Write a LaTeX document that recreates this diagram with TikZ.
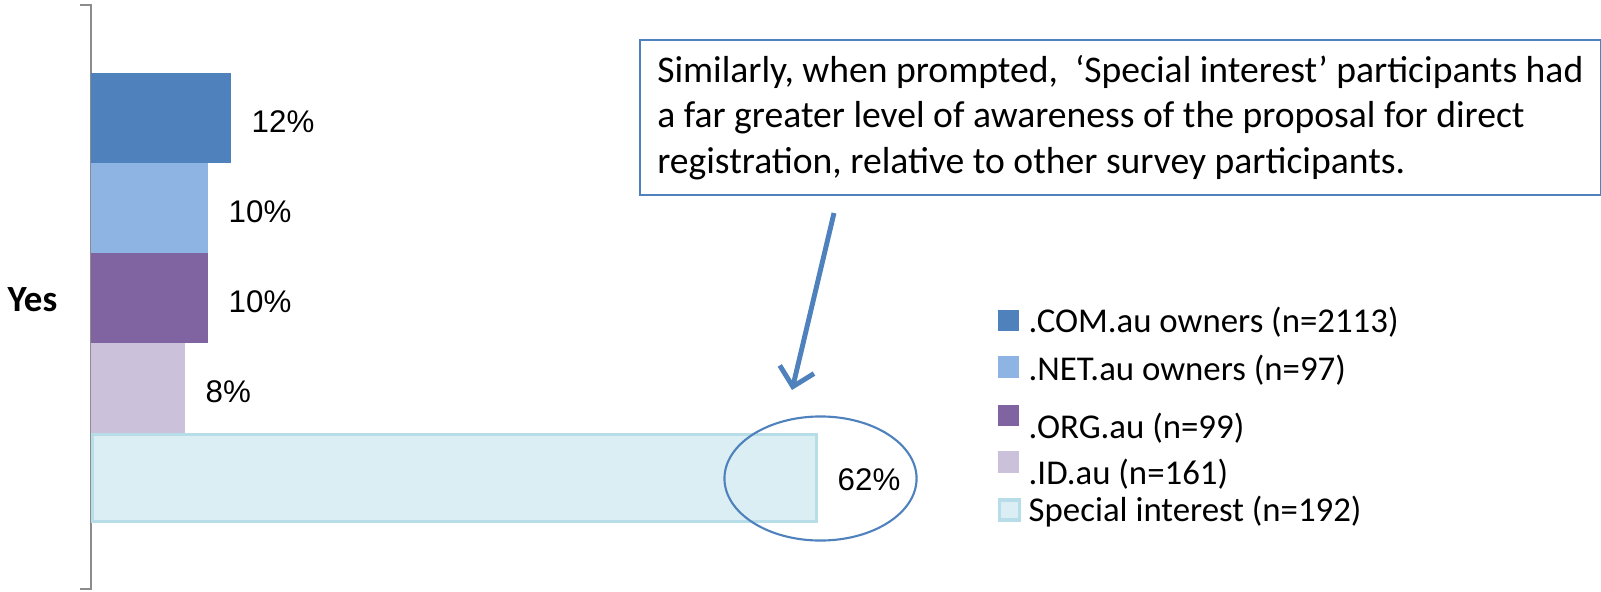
\documentclass[tikz,border=0pt]{standalone}
\usepackage{fontspec}
\setmainfont{Carlito}
\newfontfamily\pctfont{Liberation Sans}
\usetikzlibrary{arrows.meta,shapes.geometric}
\definecolor{comblue}{HTML}{4F81BD}
\definecolor{netblue}{HTML}{8EB4E3}
\definecolor{orgpurple}{HTML}{8064A2}
\definecolor{idlilac}{HTML}{CCC1DA}
\definecolor{specfill}{HTML}{DAEEF3}
\definecolor{specline}{HTML}{B7DDE8}
\definecolor{axisgray}{HTML}{8C8C8C}
\begin{document}
\begin{tikzpicture}[x=0.01cm,y=-0.01cm,>=Stealth,
  txt/.style={font=\fontsize{9.9}{12}\selectfont,inner sep=0pt},
  pct/.style={font=\pctfont\fontsize{8.9}{10}\selectfont,anchor=west,inner sep=0pt},
  key/.style={minimum size=0.215cm,inner sep=0pt,anchor=west}]
 \useasboundingbox (0,0) rectangle (1601,591);
 % axis and category
 \draw[axisgray,line width=0.6pt] (80,5) -- (91,5) -- (91,589) -- (80,589);
 \node[txt,font=\fontsize{10.5}{12}\selectfont\bfseries] (yes) at (32.5,300) {Yes};
 % bars
 \foreach \t/\r/\c/\p/\n in {73/231/comblue/12/pcom,163/208/netblue/10/pnet,253/208/orgpurple/10/porg,343/185/idlilac/8/pid}{
   \fill[\c] (91,\t) rectangle (\r,\t+90);
   \node[pct] (\n) at (\r+20,\t+49) {\p\%};
 }
 \filldraw[fill=specfill,draw=specline,line width=0.9pt] (92.5,434.5) rectangle (816.5,521.5);
 \node[pct] (pspec) at (837,480) {62\%};
 \node[ellipse,draw=comblue,line width=0.6pt,minimum width=1.92cm,minimum height=1.24cm] (ring) at (820.5,478.5) {};
 % callout
 \node[draw=comblue,line width=0.6pt,anchor=north west,inner sep=0pt,align=left,
   font=\fontsize{10.7}{12.9}\selectfont,minimum width=9.6cm,minimum height=1.55cm] (note) at (639,39)
   {Similarly, when prompted,~ ‘Special interest’ participants had\\a far greater level of awareness of the proposal for direct\\registration, relative to other survey participants.};
 \coordinate (tail) at (834,213);
 \coordinate (tip) at (792,390);
 \draw[comblue,line width=1.4pt,-{Straight Barb[length=5pt,width=10pt]}] (tail) -- (tip);
 % legend
 \node[key,fill=comblue] (kcom) at (997,320.5) {};
 \node[key,fill=netblue] (knet) at (997,367) {};
 \node[key,fill=orgpurple] (korg) at (997,415.5) {};
 \node[key,fill=idlilac] (kid) at (997,462) {};
 \node[key,fill=specfill,draw=specline,line width=0.9pt,minimum size=0.2cm] (kspec) at (998,510) {};
 \node[txt,anchor=base west] (lcom) at (1028,332.7) {.COM.au owners (n=2113)};
 \node[txt,anchor=base west] (lnet) at (1028,380) {.NET.au owners (n=97)};
 \node[txt,anchor=base west] (lorg) at (1028,438) {.ORG.au (n=99)};
 \node[txt,anchor=base west] (lid) at (1028,484) {.ID.au (n=161)};
 \node[txt,anchor=base west] (lspec) at (1028,521.7) {Special interest (n=192)};
\end{tikzpicture}
\end{document}
